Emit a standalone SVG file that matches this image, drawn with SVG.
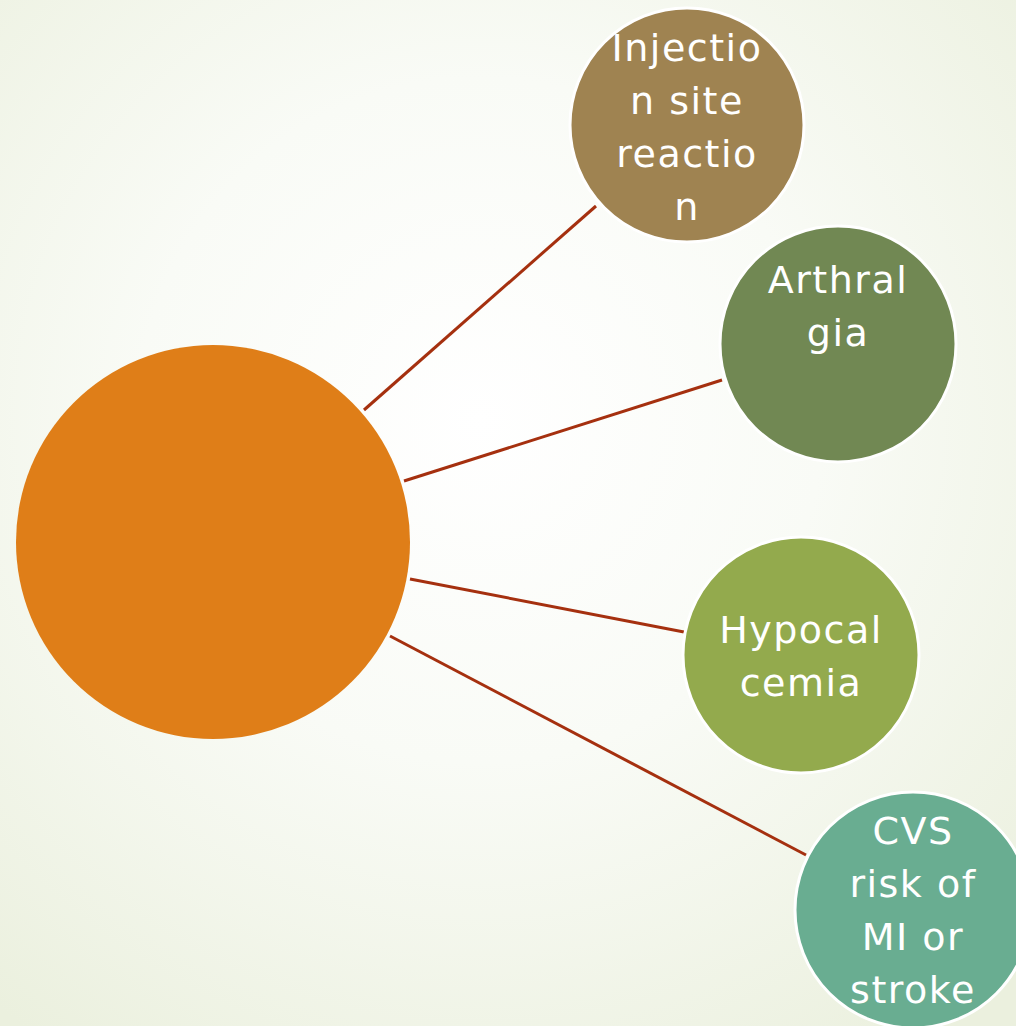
<svg xmlns="http://www.w3.org/2000/svg" width="1016" height="1026" viewBox="0 0 1016 1026">
<defs>
<radialGradient id="bg" cx="480" cy="420" r="760" gradientUnits="userSpaceOnUse">
<stop offset="0" stop-color="#FFFFFF"/>
<stop offset="0.45" stop-color="#F9FBF6"/>
<stop offset="1" stop-color="#EBF0DE"/>
</radialGradient>
<style>
.node{stroke:#FFFFFF;stroke-width:3}
.lbl{font-family:"Comic Sans MS","DejaVu Sans",sans-serif;font-size:38px;letter-spacing:1.5px;fill:#FFFFFF;text-anchor:middle}
.conn line{stroke:#A5300F;stroke-width:3}
</style>
</defs>
<rect width="1016" height="1026" fill="url(#bg)"/>
<g id="connectors" class="conn">
<line x1="364" y1="410" x2="596" y2="206"/>
<line x1="404" y1="481" x2="722" y2="380"/>
<line x1="410" y1="579" x2="684" y2="632"/>
<line x1="390" y1="636" x2="806" y2="855"/>
</g>
<g id="center">
<circle cx="213" cy="542" r="197" fill="#DF7E18"/>
</g>
<g id="injection">
<circle class="node" cx="687" cy="125" r="117" fill="#9F8351"/>
<text class="lbl" x="687" y="61">Injectio</text>
<text class="lbl" x="687" y="114">n site</text>
<text class="lbl" x="687" y="167">reactio</text>
<text class="lbl" x="687" y="220">n</text>
</g>
<g id="arthralgia">
<circle class="node" cx="838" cy="344" r="118" fill="#718853"/>
<text class="lbl" x="838" y="293">Arthral</text>
<text class="lbl" x="838" y="346">gia</text>
</g>
<g id="hypocalcemia">
<circle class="node" cx="801" cy="655" r="118" fill="#93AA4D"/>
<text class="lbl" x="801" y="643">Hypocal</text>
<text class="lbl" x="801" y="696">cemia</text>
</g>
<g id="cvs">
<circle class="node" cx="913" cy="910" r="118" fill="#69AD91"/>
<text class="lbl" x="913" y="844">CVS</text>
<text class="lbl" x="913" y="897">risk of</text>
<text class="lbl" x="913" y="950">MI or</text>
<text class="lbl" x="913" y="1003">stroke</text>
</g>
</svg>
